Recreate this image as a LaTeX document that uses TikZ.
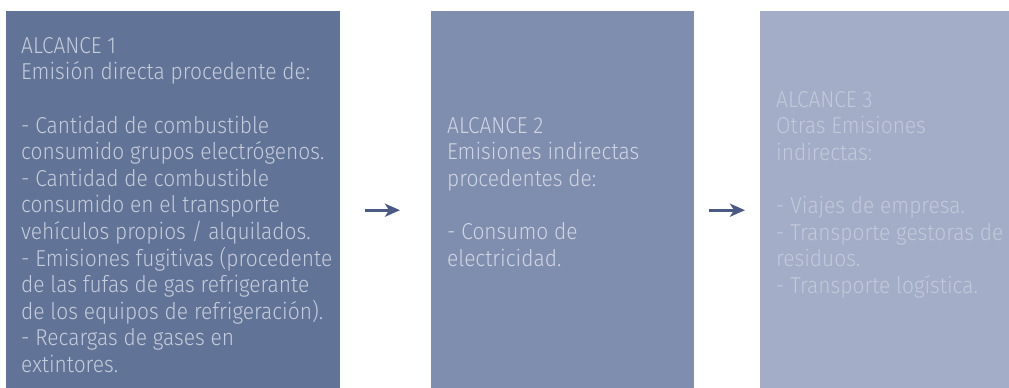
\documentclass[tikz,border=0pt]{standalone}
\usepackage{fontspec}
\setmainfont{Fira Sans}[UprightFont=* Light,FakeStretch=0.91]
\usetikzlibrary{arrows.meta}

\definecolor{scopeone}{HTML}{627398}
\definecolor{scopetwo}{HTML}{7F8DAF}
\definecolor{scopethree}{HTML}{A3ADC8}
\definecolor{textone}{HTML}{C6CCD8}
\definecolor{texttwo}{HTML}{D0D5E0}
\definecolor{textthree}{HTML}{C2C9D9}
\definecolor{arrowblue}{HTML}{4A5A85}

\begin{document}
\begin{tikzpicture}[x=1pt,y=1pt]
    \useasboundingbox (0,0) rectangle (1009,-388);

    \tikzstyle{scopebox}=[rectangle,inner sep=0pt,anchor=north west,
                          minimum height=377pt]
    \tikzstyle{scopetext}=[inner sep=0pt,anchor=north west,align=left,
                           font=\fontsize{23}{26.6}\selectfont]
    \tikzstyle{flow}=[arrowblue,line width=3pt,
                      -{Stealth[length=15pt,width=13pt,inset=4pt]}]

    % Draw the three scope boxes
    \node [scopebox,fill=scopeone,minimum width=334pt] (box1) at (6,-11) {};
    \node [scopebox,fill=scopetwo,minimum width=263pt] (box2) at (431,-11) {};
    \node [scopebox,fill=scopethree,minimum width=249pt] (box3) at (760,-11) {};

    % Texts of the boxes
    \node [scopetext,text=textone] (text1) at (21,-37) {ALCANCE 1\\
        Emisión directa procedente de:\\[26.6pt]
        - Cantidad de combustible\\
        consumido grupos electrógenos.\\
        - Cantidad de combustible\\
        consumido en el transporte\\
        vehículos propios / alquilados.\\
        - Emisiones fugitivas (procedente\\
        de las fufas de gas refrigerante\\
        de los equipos de refrigeración).\\
        - Recargas de gases en\\
        extintores.};
    \node [scopetext,text=texttwo] (text2) at (447,-117) {ALCANCE 2\\
        Emisiones indirectas\\
        procedentes de:\\[26.6pt]
        - Consumo de\\
        electricidad.};
    \node [scopetext,text=textthree] (text3) at (776,-91) {ALCANCE 3\\
        Otras Emisiones\\
        indirectas:\\[26.6pt]
        - Viajes de empresa.\\
        - Transporte gestoras de\\
        residuos.\\
        - Transporte logística.};

    % Arrows between the boxes
    \draw [flow,shorten <=25pt,shorten >=31pt]
        ([yshift=-10.5pt]box1.east) -- ([yshift=-10.5pt]box2.west);
    \draw [flow,shorten <=15pt,shorten >=15pt]
        ([yshift=-10.5pt]box2.east) -- ([yshift=-10.5pt]box3.west);
\end{tikzpicture}
\end{document}
